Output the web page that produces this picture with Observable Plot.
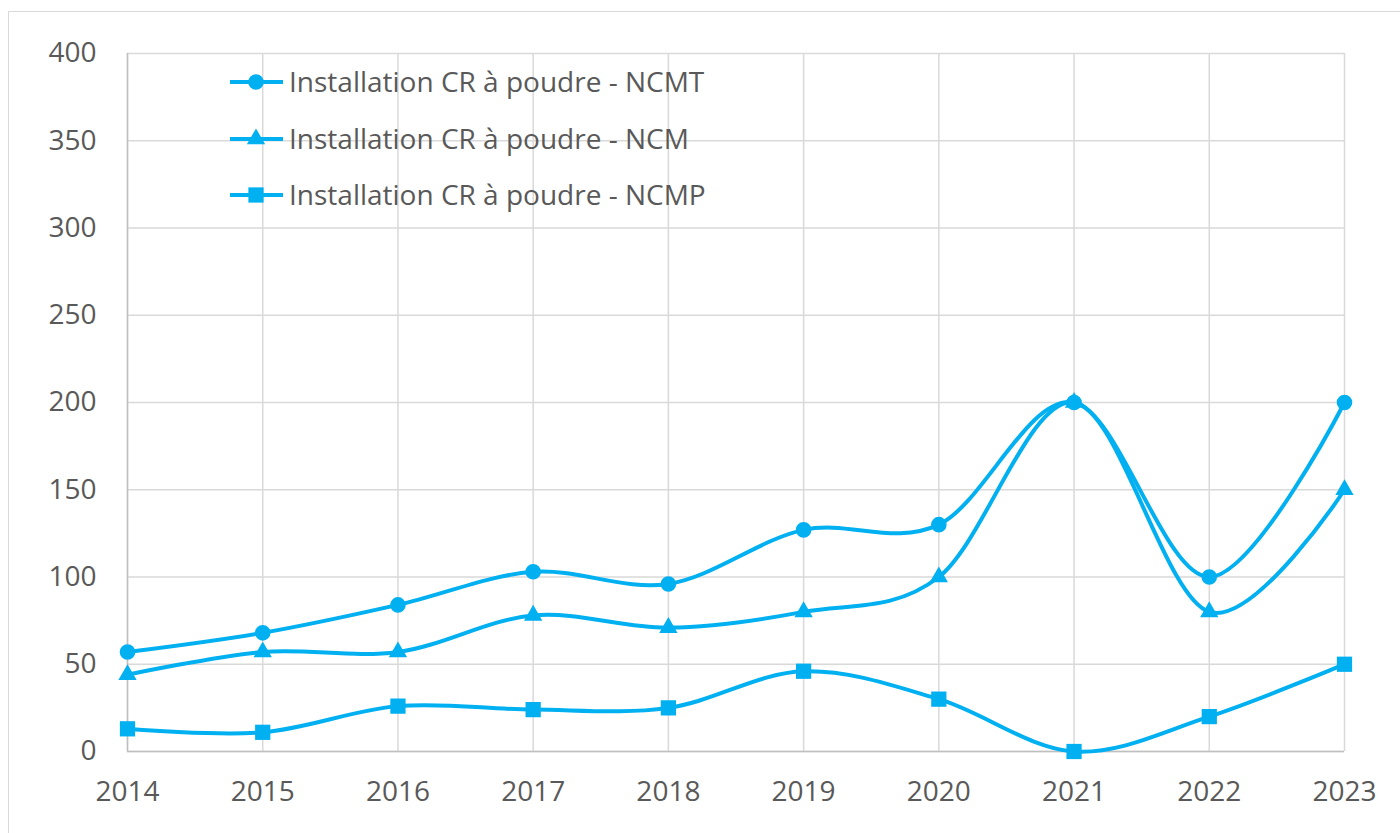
<!DOCTYPE html>
<html>
<head>
<meta charset="utf-8">
<script src="https://cdn.jsdelivr.net/npm/d3@7"></script>
<script src="https://cdn.jsdelivr.net/npm/@observablehq/plot@0.6"></script>
<style>
  html, body { margin: 0; padding: 0; background: #fff; overflow: hidden; }
  #wrap { position: relative; width: 1400px; height: 833px; }
  #frame { position: absolute; left: 8px; top: 11px; width: 1420px; height: 850px; border: 1.5px solid #D9D9D9; box-sizing: border-box; pointer-events: none; }
  #legend { position: absolute; left: 0; top: 0; pointer-events: none; }
  svg text { font-family: "Open Sans", sans-serif; }
</style>
</head>
<body>
<div id="wrap">
  <div id="frame"></div>
  <div id="chart"></div>
  <svg id="legend" width="1400" height="833"></svg>
</div>
<script>
const years = [2014, 2015, 2016, 2017, 2018, 2019, 2020, 2021, 2022, 2023];
const ncmt = [57, 68, 84, 103, 96, 127, 130, 200, 100, 200];
const ncm  = [44, 57, 57, 78, 71, 80, 100, 200, 80, 150];
const ncmp = [13, 11, 26, 24, 25, 46, 30, 0, 20, 50];
const seriesNames = ["Installation CR à poudre - NCMT", "Installation CR à poudre - NCM", "Installation CR à poudre - NCMP"];
const symbols = ["circle", "triangle", "square"];
const radii = [7.8, 6.8, 8.6];
const yTicks = [0, 50, 100, 150, 200, 250, 300, 350, 400];

const color = "#00B0F0";
const textColor = "#595959";
const gridColor = "#D9D9D9";

const seriesValues = [ncmt, ncm, ncmp];
const data = [];
seriesValues.forEach((vals, si) => {
  vals.forEach((v, i) => data.push({ series: seriesNames[si], si, year: years[i], value: v }));
});

const marks = [
  Plot.gridX(years, { stroke: gridColor, strokeOpacity: 1, strokeWidth: 1.5 }),
  Plot.gridY(yTicks, { stroke: gridColor, strokeOpacity: 1, strokeWidth: 1.5 }),
  Plot.ruleY([0], { stroke: "#BFBFBF", strokeWidth: 1.5 }),
  Plot.ruleX([years[0]], { stroke: "#BFBFBF", strokeWidth: 1.5 }),
  Plot.axisX({ ticks: years, tickFormat: d => String(d), tickSize: 0, tickPadding: 30, fontSize: 28, fill: textColor, label: null }),
  Plot.axisY({ ticks: yTicks, tickSize: 0, tickPadding: 31, fontSize: 28, fill: textColor, label: null })
];
seriesValues.forEach((vals, si) => {
  const d = data.filter(e => e.si === si);
  marks.push(Plot.line(d, { x: "year", y: "value", curve: "cardinal", stroke: color, strokeWidth: 4 }));
  marks.push(Plot.dot(d, { x: "year", y: "value", symbol: () => symbols[si], r: radii[si], fill: color, stroke: "none" }));
});

const chart = Plot.plot({
  width: 1400,
  height: 833,
  marginLeft: 127,
  marginRight: 56,
  marginTop: 53,
  marginBottom: 82,
  x: { type: "linear", domain: [years[0], years[years.length - 1]] },
  y: { domain: [0, 400] },
  style: { background: "transparent", fontFamily: "Open Sans, sans-serif", overflow: "visible" },
  marks
});
document.getElementById("chart").appendChild(chart);

// Legend
const leg = d3.select("#legend");
const legY = [82, 139, 195];
seriesNames.forEach((name, i) => {
  const g = leg.append("g").attr("transform", `translate(0,${legY[i]})`);
  g.append("line").attr("x1", 230).attr("x2", 283).attr("y1", 0).attr("y2", 0)
    .attr("stroke", color).attr("stroke-width", 4);
  g.append("path").attr("transform", "translate(256,0)")
    .attr("d", d3.symbol(symbols[i] === "circle" ? d3.symbolCircle : symbols[i] === "triangle" ? d3.symbolTriangle : d3.symbolSquare,
      Math.PI * radii[i] * radii[i])())
    .attr("fill", color);
  g.append("text").attr("x", 289).attr("y", 0).attr("dy", "0.35em")
    .attr("font-size", 28).attr("fill", textColor).text(name);
});
</script>
</body>
</html>
